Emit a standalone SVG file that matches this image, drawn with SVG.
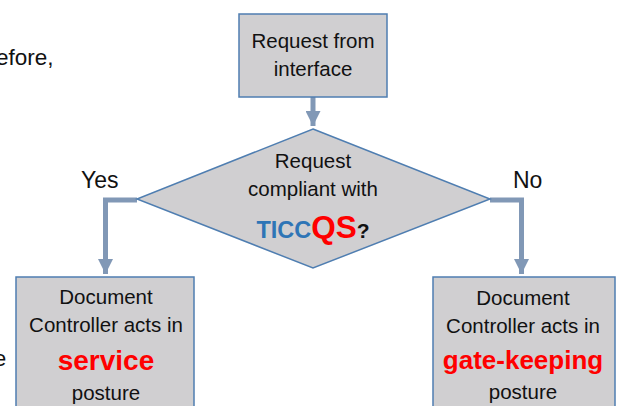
<svg xmlns="http://www.w3.org/2000/svg" width="618" height="406" viewBox="0 0 618 406">
<style>
.box{fill:#d0cfd1;stroke:#4f7eb1;stroke-width:1.5}
.t{font-family:"Liberation Sans","Noto Sans",sans-serif;font-size:20.5px;fill:#111;text-anchor:middle}
.lbl{font-family:"Liberation Sans","Noto Sans",sans-serif;font-size:23px;fill:#111}
.con{fill:none;stroke:#8198b6;stroke-width:5}
.red{fill:#ff0000;font-weight:bold}
</style>
<defs>
<marker id="ah" viewBox="0 0 10 10" refX="10" refY="5" markerWidth="3.2" markerHeight="3" orient="auto" markerUnits="strokeWidth">
<path d="M0,0 L10,5 L0,10 Z" fill="#8198b6"/>
</marker>
</defs>
<rect width="618" height="406" fill="#fff"/>
<g id="bg-text">
<text class="lbl" x="-4" y="65" style="font-size:22.5px">efore,</text>
<text class="lbl" x="-6" y="366" style="font-size:22px">e</text>
</g>
<g id="connectors">
<path class="con" d="M313,97 V126" marker-end="url(#ah)"/>
<path class="con" d="M137,200 H105.5 V274" marker-end="url(#ah)"/>
<path class="con" d="M490,200 H521.5 V274" marker-end="url(#ah)"/>
</g>
<g id="start">
<rect class="box" x="239" y="14" width="148" height="83"/>
<text class="t" x="313" y="48">Request from</text>
<text class="t" x="313" y="76">interface</text>
</g>
<g id="decision">
<polygon class="box" points="313,129 490,199 313,268 137,199"/>
<text class="t" x="313" y="168">Request</text>
<text class="t" x="313" y="196">compliant with</text>
<text class="t" x="313" y="238" font-weight="bold"><tspan fill="#2e75b6" style="font-size:23.5px">TICC</tspan><tspan fill="#ff0000" style="font-size:31.5px">QS</tspan><tspan style="font-size:21px">?</tspan></text>
</g>
<g id="label-yes"><text class="lbl" x="81" y="188">Yes</text></g>
<g id="label-no"><text class="lbl" x="513" y="188">No</text></g>
<g id="service">
<rect class="box" x="16" y="277" width="178" height="140"/>
<text class="t" x="106" y="304">Document</text>
<text class="t" x="106" y="332">Controller acts in</text>
<text class="t red" x="106" y="370" style="font-size:28px">service</text>
<text class="t" x="106" y="400">posture</text>
</g>
<g id="gatekeeping">
<rect class="box" x="433" y="277" width="182" height="140"/>
<text class="t" x="523" y="305">Document</text>
<text class="t" x="523" y="333">Controller acts in</text>
<text class="t red" x="523" y="369" style="font-size:26px">gate-keeping</text>
<text class="t" x="523" y="399">posture</text>
</g>
</svg>
